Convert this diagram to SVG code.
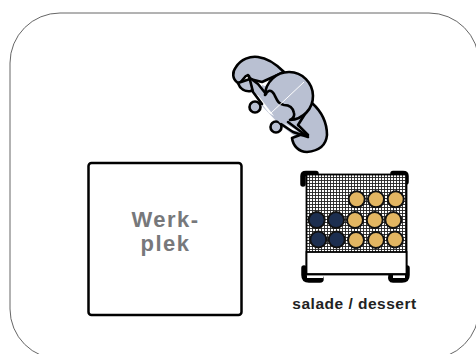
<svg xmlns="http://www.w3.org/2000/svg" width="476" height="354" viewBox="0 0 476 354">
<defs>
<pattern id="mesh" width="3" height="3" patternUnits="userSpaceOnUse" x="0" y="0"><rect width="3" height="3" fill="#fff"/><path d="M0 .5H3M.5 0V3" stroke="#222" stroke-width=".9" fill="none"/></pattern>
</defs>
<style>
.o{stroke:#000;stroke-width:2.6;stroke-linejoin:round;stroke-linecap:round}
.b{fill:#b9c0d2}
.g{fill:#e3b662;stroke:#111;stroke-width:2}
.n{fill:#1c2e4f;stroke:#111;stroke-width:2}
.c{fill:none;stroke:#000;stroke-width:5.5;stroke-linecap:round;stroke-linejoin:round}
text{font-family:"Liberation Sans",Arial,sans-serif;font-weight:700}
</style>
<rect width="476" height="354" fill="#fff"/>
<g id="frame"><rect x="10" y="13" width="469" height="346" rx="50" ry="50" fill="none" stroke="#666" stroke-width="1"/></g>
<g id="werkplek">
<rect x="88.500" y="163" width="153" height="152" rx="3" fill="#fff" stroke="#000" stroke-width="2.500"/>
<text x="165.500" y="227" font-size="22" fill="#77787b" text-anchor="middle" letter-spacing="1.500">Werk-</text>
<text x="165.500" y="251" font-size="22" fill="#77787b" text-anchor="middle" letter-spacing="1.500">plek</text>
</g>
<g id="buffet">
<path class="c" d="M303 184V176Q303 173.500 306 173.500H316"/>
<path class="c" d="M393 173.500H403Q406 173.500 406 176V182"/>
<path class="c" d="M304 268V275Q304 280 309 280H320Q322 280 320 276"/>
<path class="c" d="M407 268V275Q407 280 402 280H393Q390 280 391 276"/>
<rect x="307" y="275" width="16" height="3" fill="#fff"/>
<rect x="393" y="275" width="12" height="3" fill="#fff"/>
<rect x="306.500" y="174.500" width="100" height="100" fill="url(#mesh)" stroke="#000" stroke-width="1.800"/>
<rect x="306.500" y="252" width="100" height="22" fill="#fff" stroke="#000" stroke-width="1.800"/>
<circle class="g" cx="356.700" cy="199.300" r="8"/><circle class="g" cx="376" cy="199.300" r="8"/><circle class="g" cx="395.700" cy="199.300" r="8"/>
<circle class="n" cx="316.700" cy="220" r="8"/><circle class="n" cx="336" cy="220" r="8"/><circle class="g" cx="355" cy="220" r="8"/><circle class="g" cx="374.700" cy="220" r="8"/><circle class="g" cx="393.300" cy="220" r="8"/>
<circle class="n" cx="318.300" cy="239.500" r="8"/><circle class="n" cx="336.700" cy="239.500" r="8"/><circle class="g" cx="356" cy="240" r="8"/><circle class="g" cx="376" cy="240" r="8"/><circle class="g" cx="395" cy="239.500" r="8"/>
<text x="354.500" y="309" font-size="15.500" fill="#222" text-anchor="middle" letter-spacing=".5">salade / dessert</text>
</g>
<g id="person">
<path class="b" d="M262 84L283 72L300 100L313 115L300 140L280 125L262 106Z"/>
<path d="M255 82L284 74L267 87Z" fill="#fff"/>
<path d="M303 116L308 113L304 133L298 128Z" fill="#fff"/>
<path class="o b" d="M248 75C243 76 243 83 238 83C232 79 232 72 236 67C241 59 250 56 258 57C267 58 276 64 284 72L262 82L250 79Z"/>
<path class="o b" d="M238 83C240 89 245 92 251 91L254 88L250 79Z"/>
<path class="o b" d="M312 103C322 112 327 124 327 135C326 146 318 151 307 152C299 152 293 146 292 138L300 135L308 135L298 125Z"/>
<circle class="o b" cx="255" cy="107" r="5.500"/>
<circle class="o b" cx="276" cy="127" r="5.500"/>
<path d="M250 78L254 92L272 114L281 124L303 135L290 122L268 92L258 84Z" fill="#b9c0d2"/>
<path d="M254 94L258 95L274 116L269 113Z" fill="#fff"/>
<path d="M284 123L298 131L291 130Z" fill="#fff"/>
<path class="o" d="M249 76L253 92L262 104" fill="none"/>
<path class="o" d="M250 78L258 84L266 94" fill="none"/>
<path class="o" d="M281 124L293 132L308 137L288 122" fill="none"/>
<path class="o b" d="M265 95C268 90 271 89 274 94C277 100 278 104 284 105C290 105 293 108 294 113C295 117 292 119 290 120A24 24 0 1 0 265 95Z"/>
<path d="M271 113L304 82" stroke="#fff" stroke-width="1" fill="none"/>
</g>
</svg>
